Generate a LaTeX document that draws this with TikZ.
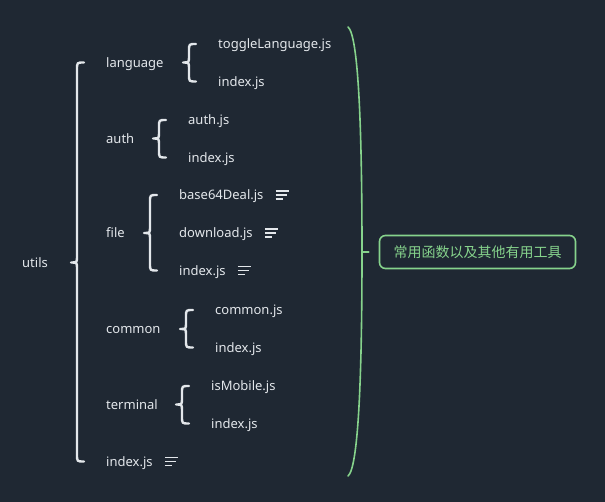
\documentclass[tikz,border=0pt]{standalone}
\usepackage{fontspec}
\setmainfont{Noto Sans}
\newfontfamily\cjk{Noto Sans CJK SC}

\definecolor{bg}{HTML}{1F2833}
\definecolor{ink}{HTML}{E3E7EB}
\definecolor{leaf}{HTML}{86D38C}

\tikzset{
  item/.style={anchor=west, inner sep=0pt, text=ink, font=\fontsize{13}{15}\selectfont,
    text height=11pt, text depth=1pt},
  forkline/.style={draw=ink, line width=2.4pt, line cap=round, line join=round},
  notelines/.style={draw=ink, line width=1.3pt},
  sumline/.style={draw=leaf, line width=1.6pt, line cap=round},
  sumbox/.style={draw=leaf, line width=1.6pt, rounded corners=6pt, text=leaf,
    minimum width=196pt, minimum height=33pt, font=\cjk\fontsize{14}{16}\selectfont},
}

% curly brace: parent #1, first child #2, last child #3
\newcommand{\fork}[3]{%
  \draw[forkline] ([xshift=-22pt]#2.west)
    .. controls ([xshift=-29pt]#2.west) .. ([xshift=-29pt,yshift=-7pt]#2.west)
    -- ([xshift=-29pt,yshift=6pt]#2.west |- #1.east)
    .. controls ([xshift=-29pt]#2.west |- #1.east) .. ([xshift=-35pt]#2.west |- #1.east)
    .. controls ([xshift=-29pt]#2.west |- #1.east) .. ([xshift=-29pt,yshift=-6pt]#2.west |- #1.east)
    -- ([xshift=-29pt,yshift=7pt]#3.west)
    .. controls ([xshift=-29pt]#3.west) .. ([xshift=-22pt]#3.west);}

% note icon after a node
\newcommand{\notemark}[1]{%
  \draw[notelines] ([xshift=12pt,yshift=4pt]#1.east) -- ++(13,0)
    ([xshift=12pt,yshift=0pt]#1.east) -- ++(11,0)
    ([xshift=12pt,yshift=-4pt]#1.east) -- ++(7,0);}

\begin{document}
\begin{tikzpicture}[x=1pt, y=-1pt]
    \fill[bg] (0,0) rectangle (605,502);
    \useasboundingbox (0,0) rectangle (605,502);

    \node[item] (utils) at (22,262.5) {utils};

    \node[item] (language) at (106,62.5) {language};
    \node[item] (langtoggle) at (218,44) {toggleLanguage.js};
    \node[item] (langindex) at (218,81.5) {index.js};

    \node[item] (auth) at (106,138.5) {auth};
    \node[item] (authjs) at (188,120) {auth.js};
    \node[item] (authindex) at (188,157.5) {index.js};

    \node[item] (file) at (106,233) {file};
    \node[item] (base64) at (179,195) {base64Deal.js};
    \node[item] (download) at (179,233) {download.js};
    \node[item] (fileindex) at (179,270.5) {index.js};

    \node[item] (common) at (106,329) {common};
    \node[item] (commonjs) at (215,310) {common.js};
    \node[item] (commonindex) at (215,347.5) {index.js};

    \node[item] (terminal) at (106,404.5) {terminal};
    \node[item] (ismobile) at (211,386) {isMobile.js};
    \node[item] (termindex) at (211,423.5) {index.js};

    \node[item] (rootindex) at (106,461.5) {index.js};

    \fork{utils}{language}{rootindex}
    \fork{language}{langtoggle}{langindex}
    \fork{auth}{authjs}{authindex}
    \fork{file}{base64}{fileindex}
    \fork{common}{commonjs}{commonindex}
    \fork{terminal}{ismobile}{termindex}

    \notemark{base64}
    \notemark{download}
    \notemark{fileindex}
    \notemark{rootindex}

    % summary brace
    \coordinate (sumtop) at (348,27);
    \coordinate (summid) at (362,252);
    \coordinate (sumbot) at (348,476);
    \node[sumbox] (summary) at (477.5,252) {常用函数以及其他有用工具};

    \draw[sumline] (sumtop) .. controls (358,35) and (362,120) .. (summid)
        .. controls (362,384) and (358,468) .. (sumbot);
    \draw[sumline] (summid) -- ([xshift=-10pt]summary.west);
\end{tikzpicture}
\end{document}
